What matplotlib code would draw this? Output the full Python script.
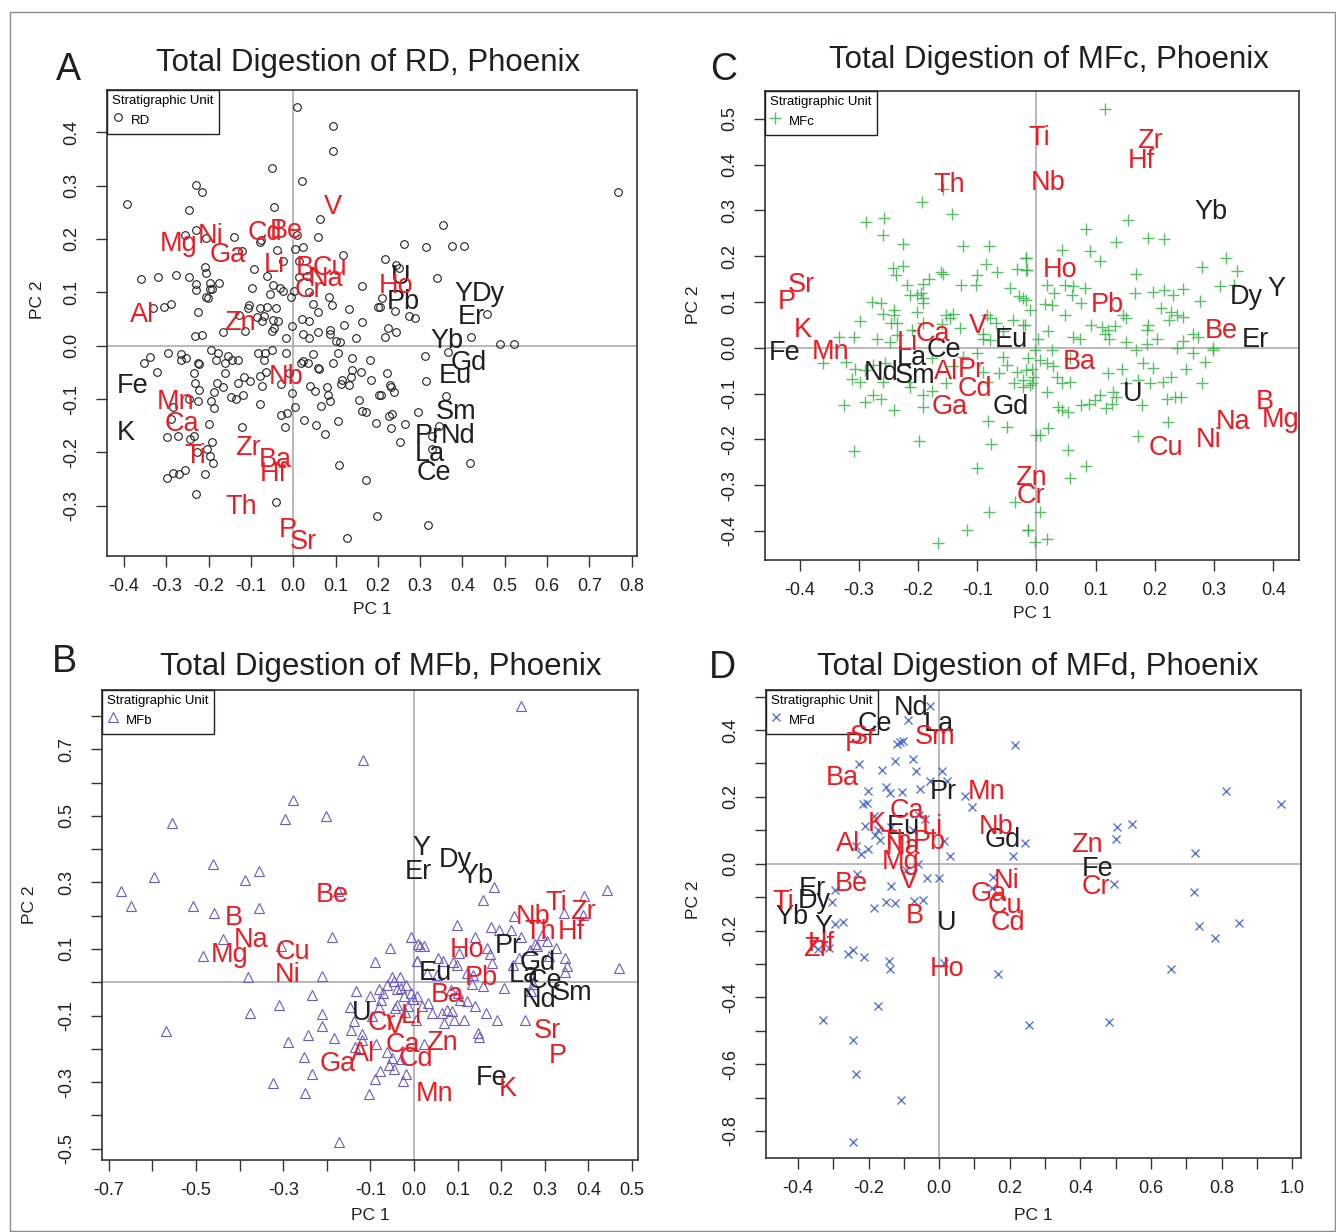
import matplotlib
matplotlib.use("Agg")
import matplotlib.pyplot as plt
import numpy as np

plt.rcParams['font.family'] = ['Liberation Sans', 'DejaVu Sans']
plt.rcParams['axes.unicode_minus'] = False

RED = '#ed1c24'
BLACK = '#231f20'

# ---------------- panel A : RD ----------------
rd_scores = [
    (0.008, 0.448), (0.095, 0.411), (0.095, 0.365), (-0.049, 0.333), (0.020, 0.309),
    (-0.229, 0.301), (-0.215, 0.287), (-0.392, 0.265), (-0.247, 0.255), (-0.045, 0.259),
    (0.063, 0.238), (-0.255, 0.207), (-0.229, 0.216), (-0.205, 0.202), (-0.139, 0.203),
    (-0.079, 0.195), (-0.075, 0.198), (0.008, 0.208), (0.058, 0.203), (-0.038, 0.180),
    (0.004, 0.181), (0.024, 0.184), (-0.122, 0.177), (0.118, 0.169), (-0.092, 0.143),
    (-0.025, 0.159), (0.014, 0.159), (-0.209, 0.148), (-0.205, 0.137), (-0.359, 0.124),
    (-0.319, 0.129), (-0.276, 0.132), (-0.247, 0.129), (-0.063, 0.130), (0.014, 0.129),
    (0.032, 0.130), (-0.229, 0.115), (-0.197, 0.118), (-0.175, 0.118), (-0.229, 0.104),
    (-0.197, 0.107), (-0.191, 0.106), (-0.047, 0.114), (-0.032, 0.109), (-0.025, 0.102),
    (-0.098, 0.109), (-0.055, 0.096), (0.002, 0.102), (-0.004, 0.092), (-0.206, 0.092),
    (-0.201, 0.089), (0.085, 0.092), (0.038, 0.100), (0.047, 0.078), (0.092, 0.076),
    (-0.331, 0.071), (-0.305, 0.072), (-0.288, 0.078), (-0.225, 0.064), (-0.104, 0.077),
    (-0.106, 0.071), (-0.079, 0.070), (-0.063, 0.072), (-0.041, 0.071), (0.058, 0.064),
    (0.132, 0.069), (0.163, 0.112), (0.201, 0.072), (-0.085, 0.053), (-0.069, 0.056),
    (-0.074, 0.046), (-0.128, 0.057), (-0.047, 0.048), (-0.035, 0.046), (0.020, 0.050),
    (0.038, 0.047), (0.087, 0.029), (0.121, 0.039), (0.162, 0.045), (-0.165, 0.026),
    (-0.113, 0.028), (-0.051, 0.028), (-0.045, 0.034), (-0.002, 0.036), (-0.231, 0.019),
    (-0.215, 0.020), (-0.016, 0.015), (0.024, 0.021), (0.038, 0.014), (0.059, 0.026),
    (0.087, 0.021), (0.148, 0.014), (0.100, 0.009), (0.110, 0.007),
    (0.768, 0.287), (0.355, 0.226), (0.262, 0.190), (0.313, 0.185), (0.375, 0.187),
    (0.403, 0.187), (0.217, 0.162), (0.243, 0.151), (0.250, 0.146), (0.341, 0.127),
    (0.211, 0.089), (0.205, 0.072), (0.240, 0.065), (0.274, 0.056), (0.288, 0.051),
    (0.457, 0.059), (0.225, 0.034), (0.244, 0.026), (0.218, 0.017), (0.420, 0.016),
    (-0.352, -0.033), (-0.339, -0.021), (-0.322, -0.049), (-0.296, -0.013), (-0.264, -0.016),
    (-0.265, -0.026), (-0.254, -0.024), (-0.225, -0.032), (-0.223, -0.035), (-0.234, -0.051),
    (-0.232, -0.069), (-0.223, -0.083), (-0.225, -0.104), (-0.246, -0.100), (-0.195, -0.008),
    (-0.177, -0.013), (-0.183, -0.027), (-0.155, -0.020), (-0.161, -0.033), (-0.144, -0.026),
    (-0.130, -0.026), (-0.161, -0.052), (-0.181, -0.069), (-0.187, -0.086), (-0.195, -0.103),
    (-0.186, -0.117), (-0.166, -0.078), (-0.148, -0.097), (-0.136, -0.100), (-0.118, -0.092),
    (-0.116, -0.058), (-0.101, -0.066), (-0.130, -0.069), (-0.084, -0.013), (-0.067, -0.013),
    (-0.069, -0.026), (-0.051, -0.009), (-0.065, -0.049), (-0.078, -0.057), (-0.073, -0.076),
    (-0.078, -0.109), (-0.028, -0.071), (-0.009, -0.052), (-0.002, -0.089), (0.004, -0.115),
    (-0.016, -0.013), (-0.029, -0.130), (-0.014, -0.127), (-0.020, -0.152), (0.025, -0.140),
    (0.055, -0.149), (0.076, -0.166), (0.107, -0.141), (0.108, -0.224), (0.173, -0.252),
    (0.197, -0.320), (0.128, -0.360), (-0.041, -0.292), (-0.120, -0.153), (-0.199, -0.147),
    (-0.230, -0.278), (-0.209, -0.240), (-0.189, -0.220), (-0.197, -0.207), (-0.203, -0.194),
    (-0.191, -0.181), (-0.234, -0.169), (-0.244, -0.175), (-0.273, -0.169), (-0.299, -0.172),
    (-0.289, -0.138), (-0.285, -0.115), (-0.298, -0.248), (-0.285, -0.238), (-0.270, -0.240),
    (-0.255, -0.232), (-0.227, -0.200), (0.018, -0.032), (0.024, -0.029), (0.039, -0.076),
    (0.051, -0.084), (0.047, -0.016), (0.035, -0.033), (0.059, -0.041), (0.061, -0.044),
    (0.065, -0.113), (0.083, -0.092), (0.087, -0.104), (0.081, -0.077), (0.095, -0.033),
    (0.116, -0.064), (0.132, -0.074), (0.139, -0.046), (0.137, -0.058), (0.155, -0.101),
    (0.161, -0.049), (0.163, -0.122), (0.171, -0.125), (0.183, -0.064), (0.195, -0.145),
    (0.182, -0.027), (0.203, -0.093), (0.114, -0.071), (0.139, -0.024), (0.105, -0.014),
    (0.311, -0.019), (0.313, -0.066), (0.366, -0.011), (0.362, -0.094), (0.294, -0.125),
    (0.345, -0.150), (0.329, -0.169), (0.329, -0.194), (0.418, -0.220), (0.252, -0.181),
    (0.264, -0.147), (0.230, -0.155), (0.234, -0.128), (0.226, -0.132), (0.238, -0.086),
    (0.229, -0.074), (0.232, -0.077), (0.221, -0.052), (0.207, -0.092), (0.489, 0.003),
    (0.522, 0.003), (0.318, -0.335),
]
rd_red = ['V', 'Be', 'Cd', 'Mg', 'Ni', 'Ga', 'Li', 'B', 'Cu', 'Na', 'Cr', 'Ho', 'Al', 'Zn',
          'Nb', 'Mn', 'Ca', 'Ti', 'Zr', 'Ba', 'Hf', 'Th', 'P', 'Sr']
rd_red_x = [0.095, -0.016, -0.067, -0.270, -0.195, -0.155, -0.045, 0.028, 0.087, 0.079, 0.038,
            0.243, -0.358, -0.126, -0.016, -0.277, -0.264, -0.232, -0.106, -0.043, -0.046,
            -0.122, -0.012, 0.025]
rd_red_y = [0.260, 0.214, 0.211, 0.190, 0.206, 0.169, 0.151, 0.146, 0.146, 0.125, 0.104,
            0.111, 0.058, 0.042, -0.058, -0.105, -0.147, -0.207, -0.192, -0.214, -0.240,
            -0.303, -0.345, -0.368]
rd_black = ['Fe', 'K', 'U', 'Pb', 'Y', 'Dy', 'Er', 'Yb', 'Gd', 'Eu', 'Sm', 'Pr', 'Nd', 'La', 'Ce']
rd_black_x = [-0.380, -0.396, 0.255, 0.260, 0.402, 0.461, 0.422, 0.363, 0.414, 0.384, 0.384,
              0.319, 0.390, 0.323, 0.333]
rd_black_y = [-0.076, -0.163, 0.129, 0.082, 0.096, 0.096, 0.053, 0.008, -0.033, -0.057, -0.124,
              -0.169, -0.170, -0.203, -0.239]

# ---------------- panel C : MFc ----------------
mfc_scores = [
    (-0.157, 0.346), (-0.194, 0.319), (-0.143, 0.291), (-0.288, 0.274), (-0.257, 0.284),
    (-0.259, 0.246), (-0.225, 0.226), (-0.124, 0.223), (-0.080, 0.221), (-0.242, 0.175),
    (-0.225, 0.178), (-0.238, 0.159), (-0.161, 0.166), (-0.157, 0.161), (-0.085, 0.182),
    (-0.067, 0.166), (-0.101, 0.159), (-0.033, 0.172), (-0.018, 0.195), (-0.017, 0.170),
    (-0.182, 0.151), (-0.191, 0.140), (-0.128, 0.138), (-0.102, 0.138), (-0.045, 0.131),
    (-0.219, 0.137), (-0.214, 0.116), (-0.202, 0.116), (-0.195, 0.119), (-0.192, 0.108),
    (-0.192, 0.097), (-0.202, 0.079), (-0.277, 0.100), (-0.263, 0.097), (-0.298, 0.058),
    (-0.241, 0.082), (-0.240, 0.071), (-0.260, 0.073), (-0.245, 0.053), (-0.236, 0.055),
    (-0.152, 0.071), (-0.141, 0.073), (-0.129, 0.044), (-0.084, 0.071), (-0.079, 0.064),
    (-0.069, 0.053), (-0.029, 0.113), (-0.017, 0.104), (-0.039, 0.060), (-0.022, 0.049),
    (-0.333, 0.024), (-0.309, 0.024), (-0.270, 0.018), (-0.248, 0.013), (-0.236, 0.028),
    (-0.210, 0.039), (-0.192, 0.055), (-0.159, 0.051), (-0.146, 0.064), (-0.090, 0.031),
    (-0.090, 0.020), (-0.079, 0.017), (-0.056, 0.036),
    (0.116, 0.521), (0.154, 0.279), (0.083, 0.259), (0.135, 0.231), (0.189, 0.240),
    (0.216, 0.237), (0.044, 0.213), (0.090, 0.212), (0.107, 0.190), (-0.017, 0.195),
    (-0.016, 0.170), (0.320, 0.195), (0.279, 0.177), (0.338, 0.168), (0.169, 0.162),
    (0.310, 0.135), (0.333, 0.138), (0.017, 0.137), (0.048, 0.138), (0.062, 0.135),
    (0.082, 0.130), (0.029, 0.119), (0.060, 0.116), (0.166, 0.119), (0.197, 0.122),
    (0.216, 0.126), (0.231, 0.116), (0.248, 0.128), (0.276, 0.102), (0.014, 0.095),
    (0.026, 0.093), (0.076, 0.097), (0.049, 0.071), (0.147, 0.071), (0.152, 0.064),
    (0.211, 0.086), (0.228, 0.079), (0.237, 0.071), (0.248, 0.068), (0.224, 0.060),
    (-0.022, 0.108), (-0.011, 0.082), (-0.020, 0.049), (0.020, 0.036), (0.003, 0.020),
    (0.062, 0.024), (0.073, 0.020), (0.093, 0.049), (0.110, 0.046), (0.121, 0.039),
    (0.116, 0.031), (0.133, 0.048), (0.123, 0.020), (0.152, 0.013), (0.189, 0.049),
    (0.186, 0.039), (0.203, 0.020), (0.186, 0.009), (0.248, 0.015), (0.265, 0.031),
    (0.273, 0.024), (0.299, -0.001),
    (-0.361, -0.034), (-0.321, -0.031), (-0.307, -0.047), (-0.312, -0.069), (-0.298, -0.074),
    (-0.290, -0.049), (-0.276, -0.038), (-0.256, -0.034), (-0.325, -0.125), (-0.290, -0.118),
    (-0.276, -0.103), (-0.263, -0.113), (-0.241, -0.136), (-0.215, -0.074), (-0.191, -0.103),
    (-0.191, -0.130), (-0.177, -0.094), (-0.152, -0.078), (-0.308, -0.225), (-0.198, -0.204),
    (-0.081, -0.159), (-0.050, -0.174), (-0.077, -0.211), (-0.101, -0.263), (-0.080, -0.358),
    (-0.118, -0.398), (-0.167, -0.427), (-0.036, -0.336), (-0.014, -0.398), (-0.003, -0.424),
    (-0.001, -0.191), (-0.101, -0.012), (-0.056, -0.020), (-0.050, -0.038), (-0.064, -0.055),
    (-0.090, -0.052), (-0.084, -0.074), (-0.033, -0.052), (-0.038, -0.076), (-0.022, -0.085),
    (-0.008, -0.078), (-0.008, -0.047), (-0.014, -0.023), (-0.003, -0.005), (-0.177, -0.023),
    (-0.124, -0.020), (-0.141, -0.041), (-0.214, -0.085), (-0.259, -0.074),
    (-0.022, -0.071), (-0.017, -0.049), (-0.006, -0.063), (0.006, -0.027), (0.026, -0.005),
    (0.028, -0.041), (0.034, -0.063), (0.044, -0.078), (0.057, -0.074), (0.017, -0.096),
    (0.037, -0.129), (0.044, -0.136), (0.054, -0.140), (0.006, -0.191), (0.020, -0.176),
    (0.054, -0.223), (0.057, -0.285), (0.083, -0.258), (0.006, -0.358), (-0.014, -0.398),
    (0.017, -0.418), (0.172, -0.193), (0.222, -0.162), (0.279, -0.076), (0.285, -0.031),
    (0.299, -0.005), (0.253, -0.047), (0.245, -0.107), (0.234, -0.107), (0.220, -0.111),
    (0.228, -0.063), (0.214, -0.074), (0.197, -0.045), (0.192, -0.078), (0.180, -0.034),
    (0.172, -0.071), (0.178, -0.125), (0.152, -0.078), (0.144, -0.047), (0.135, -0.107),
    (0.127, -0.122), (0.118, -0.132), (0.107, -0.103), (0.099, -0.114), (0.088, -0.122),
    (0.076, -0.125), (0.121, -0.056), (0.130, -0.096), (0.169, -0.005), (0.265, -0.012),
    (0.237, -0.001), (-0.011, -0.082), (0.057, -0.023), (0.017, -0.034),
]
mfc_red = ['Ti', 'Zr', 'Hf', 'Nb', 'Th', 'Ho', 'Pb', 'Be', 'Sr', 'P', 'K', 'Mn', 'Ca', 'Li', 'V',
           'Al', 'Pr', 'Cd', 'Ga', 'Ba', 'Zn', 'Cr', 'Cu', 'Ni', 'Na', 'B', 'Mg']
mfc_red_x = [0.005, 0.192, 0.178, 0.020, -0.147, 0.040, 0.119, 0.312, -0.397, -0.422, -0.395,
             -0.348, -0.174, -0.218, -0.099, -0.152, -0.110, -0.104, -0.146, 0.072, -0.010,
             -0.009, 0.219, 0.291, 0.332, 0.385, 0.413]
mfc_red_y = [0.457, 0.451, 0.408, 0.359, 0.355, 0.170, 0.093, 0.036, 0.137, 0.100, 0.039,
             -0.009, 0.031, 0.010, 0.048, -0.052, -0.049, -0.091, -0.130, -0.031, -0.284,
             -0.323, -0.218, -0.202, -0.162, -0.118, -0.157]
mfc_black = ['Yb', 'Y', 'Dy', 'Er', 'Eu', 'Fe', 'Ce', 'La', 'Nd', 'Sm', 'Gd', 'U']
mfc_black_x = [0.295, 0.406, 0.355, 0.370, -0.043, -0.425, -0.157, -0.211, -0.263, -0.205,
               -0.044, 0.162]
mfc_black_y = [0.297, 0.128, 0.111, 0.016, 0.017, -0.012, -0.004, -0.023, -0.055, -0.062,
               -0.129, -0.100]

# ---------------- panel B : MFb ----------------
mfb_scores = [
    (-0.118, 0.668), (-0.278, 0.548), (-0.296, 0.491), (-0.202, 0.498), (-0.554, 0.478),
    (-0.460, 0.355), (-0.596, 0.316), (-0.388, 0.308), (-0.355, 0.335), (-0.672, 0.273),
    (-0.648, 0.228), (-0.506, 0.230), (-0.459, 0.208), (-0.355, 0.223), (-0.174, 0.275),
    (-0.439, 0.130), (-0.485, 0.078), (-0.304, 0.108), (-0.187, 0.135), (-0.055, 0.103),
    (-0.089, 0.060), (-0.008, 0.135), (-0.380, 0.015), (-0.212, 0.018), (-0.051, 0.015),
    (-0.031, 0.015), (0.010, 0.115), (0.006, 0.065),
    (0.245, 0.831), (0.184, 0.286), (0.159, 0.246), (0.391, 0.260), (0.442, 0.276),
    (0.229, 0.200), (0.343, 0.208), (0.388, 0.203), (0.098, 0.173), (0.176, 0.166),
    (0.196, 0.156), (0.222, 0.156), (0.141, 0.135), (0.245, 0.135), (0.293, 0.143),
    (0.304, 0.123), (0.277, 0.115), (0.326, 0.103), (0.014, 0.108), (0.024, 0.108),
    (0.056, 0.073), (0.066, 0.063), (0.089, 0.060), (0.104, 0.088), (0.098, 0.053),
    (0.167, 0.103), (0.174, 0.086), (0.178, 0.058), (0.227, 0.053), (0.241, 0.073),
    (0.267, 0.096), (0.283, 0.108), (0.310, 0.078), (0.346, 0.073), (0.350, 0.048),
    (0.346, 0.030), (0.470, 0.043), (0.006, 0.063), (0.029, 0.028), (0.052, 0.023),
    (0.121, 0.028), (0.136, 0.023),
    (-0.569, -0.147), (-0.376, -0.092), (-0.309, -0.067), (-0.290, -0.180), (-0.253, -0.225),
    (-0.235, -0.275), (-0.324, -0.304), (-0.251, -0.332), (-0.242, -0.159), (-0.233, -0.037),
    (-0.211, -0.094), (-0.211, -0.130), (-0.184, -0.167), (-0.172, -0.479), (-0.133, -0.025),
    (-0.147, -0.074), (-0.145, -0.142), (-0.137, -0.117), (-0.119, -0.154), (-0.119, -0.172),
    (-0.135, -0.194), (-0.104, -0.337), (-0.090, -0.292), (-0.078, -0.267), (-0.057, -0.249),
    (-0.047, -0.262), (-0.026, -0.297), (-0.018, -0.277), (-0.088, -0.187), (-0.063, -0.210),
    (-0.051, -0.227), (-0.030, -0.230), (-0.096, -0.102), (-0.080, -0.075), (-0.075, -0.054),
    (-0.071, -0.032), (-0.100, -0.042), (-0.081, -0.020), (-0.063, -0.007), (-0.047, 0.003),
    (-0.040, -0.019), (-0.039, -0.067), (-0.043, -0.077), (-0.021, -0.090), (-0.023, -0.042),
    (-0.030, -0.017), (-0.018, -0.007), (-0.008, -0.032), (-0.002, -0.050), (-0.014, -0.072),
    (0.004, -0.112), (0.006, -0.042), (0.018, -0.072), (0.031, -0.062), (0.042, -0.092),
    (0.023, -0.187), (0.064, -0.092), (0.068, -0.122), (0.076, -0.082), (0.088, -0.087),
    (0.092, -0.112), (0.115, -0.112), (0.105, -0.052), (0.121, -0.057), (0.141, -0.072),
    (0.132, -0.004), (0.158, -0.012), (0.166, -0.092), (0.191, -0.114), (0.146, -0.152),
    (0.150, -0.164), (0.207, -0.017), (0.255, -0.112), (0.268, -0.027), (0.273, -0.004),
    (0.100, -0.032), (0.084, -0.022),
]
mfb_red = ['Be', 'B', 'Na', 'Mg', 'Cu', 'Ni', 'Nb', 'Ti', 'Zr', 'Th', 'Hf', 'Ho', 'Pb', 'Ba',
           'Cr', 'V', 'Li', 'Ca', 'Zn', 'Al', 'Cd', 'Ga', 'Mn', 'Sr', 'P', 'K']
mfb_red_x = [-0.188, -0.414, -0.374, -0.424, -0.277, -0.290, 0.274, 0.327, 0.388, 0.289, 0.362,
             0.121, 0.154, 0.076, -0.073, -0.043, -0.006, -0.026, 0.064, -0.116, 0.004,
             -0.174, 0.046, 0.307, 0.330, 0.214]
mfb_red_y = [0.262, 0.193, 0.128, 0.083, 0.090, 0.023, 0.196, 0.238, 0.211, 0.151, 0.151,
             0.098, 0.013, -0.037, -0.122, -0.132, -0.102, -0.190, -0.182, -0.215, -0.230,
             -0.245, -0.337, -0.147, -0.222, -0.322]
mfb_black = ['Y', 'Er', 'Dy', 'Yb', 'Pr', 'Gd', 'La', 'Ce', 'Sm', 'Nd', 'Eu', 'U', 'Fe']
mfb_black_x = [0.016, 0.011, 0.094, 0.144, 0.216, 0.284, 0.252, 0.301, 0.363, 0.287, 0.050,
               -0.120, 0.179]
mfb_black_y = [0.403, 0.330, 0.368, 0.318, 0.108, 0.058, 0.023, 0.003, -0.032, -0.052, 0.028,
               -0.092, -0.287]

# ---------------- panel D : MFd ----------------
mfd_scores = [
    (-0.271, 0.454), (-0.027, 0.471), (-0.089, 0.429), (-0.119, 0.357), (-0.111, 0.363),
    (-0.103, 0.368), (0.216, 0.355), (-0.228, 0.298), (-0.163, 0.281), (-0.125, 0.308),
    (-0.075, 0.313), (-0.065, 0.277), (0.009, 0.279), (0.021, 0.249), (-0.027, 0.247),
    (-0.202, 0.218), (-0.152, 0.229), (-0.139, 0.211), (-0.106, 0.216), (-0.055, 0.223),
    (0.074, 0.203), (0.093, 0.169), (-0.216, 0.179), (-0.204, 0.182), (-0.185, 0.143),
    (-0.211, 0.114), (-0.173, 0.101), (-0.183, 0.085), (-0.168, 0.071), (-0.137, 0.111),
    (-0.057, 0.145), (-0.039, 0.134), (-0.074, 0.101), (0.015, 0.069), (0.031, 0.024),
    (0.244, 0.061), (0.208, 0.024), (-0.237, 0.053), (-0.201, 0.045), (-0.221, 0.030),
    (-0.232, -0.032), (-0.137, -0.067), (-0.093, -0.018), (-0.060, -0.001), (-0.034, -0.044),
    (0.000, -0.043), (-0.072, -0.112), (-0.047, -0.109), (-0.152, -0.114), (-0.124, -0.119),
    (-0.185, -0.132), (-0.295, -0.078), (-0.305, -0.114), (-0.295, -0.180), (-0.273, -0.175),
    (-0.312, -0.253), (-0.258, -0.271), (-0.243, -0.259), (-0.212, -0.279), (-0.142, -0.292),
    (-0.139, -0.315), (0.014, -0.296), (0.167, -0.329), (-0.173, -0.427), (-0.330, -0.467),
    (-0.243, -0.528), (-0.237, -0.630), (-0.108, -0.706), (-0.243, -0.832), (0.254, -0.483),
    (0.481, -0.474), (0.656, -0.315), (0.504, 0.111), (0.545, 0.119), (0.500, 0.074),
    (0.494, -0.060), (0.726, 0.032), (0.721, -0.086), (0.737, -0.185), (0.782, -0.221),
    (0.849, -0.179), (0.813, 0.219), (0.968, 0.179), (0.149, -0.072), (0.152, -0.041),
    (-0.358, -0.243), (-0.343, -0.256),
]
mfd_red = ['Sr', 'P', 'Sm', 'Ba', 'Mn', 'Ca', 'K', 'Li', 'Nb', 'Al', 'Th', 'Na', 'Pb', 'Mg',
           'V', 'Be', 'Ti', 'B', 'Hf', 'Zr', 'Ho', 'Ni', 'Ga', 'Cu', 'Cd', 'Zn', 'Cr']
mfd_red_x = [-0.214, -0.243, -0.011, -0.274, 0.133, -0.091, -0.178, -0.019, 0.160, -0.258,
             -0.122, -0.101, -0.029, -0.108, -0.086, -0.248, -0.441, -0.070, -0.333, -0.348,
             0.023, 0.190, 0.141, 0.185, 0.196, 0.419, 0.445]
mfd_red_y = [0.378, 0.357, 0.378, 0.256, 0.216, 0.158, 0.119, 0.111, 0.109, 0.059, 0.064,
             0.050, 0.064, 0.006, -0.051, -0.062, -0.116, -0.158, -0.240, -0.256, -0.316,
             -0.051, -0.090, -0.128, -0.177, 0.057, -0.069]
mfd_black = ['Nd', 'Ce', 'La', 'Pr', 'Eu', 'Gd', 'Fe', 'Er', 'Dy', 'Yb', 'Y', 'U']
mfd_black_x = [-0.080, -0.181, 0.000, 0.012, -0.101, 0.179, 0.450, -0.358, -0.353, -0.417,
               -0.328, 0.021]
mfd_black_y = [0.467, 0.417, 0.417, 0.214, 0.111, 0.072, -0.015, -0.075, -0.111, -0.159,
               -0.188, -0.177]


W, H = 1336, 1232
fig = plt.figure(figsize=(W / 100, H / 100), dpi=100)


def fx(px):
    return px / W


def fy(py):
    return 1 - py / H


def tick_labels(ticks, shown):
    out = []
    for t in ticks:
        if any(abs(t - s) < 1e-9 for s in shown):
            out.append('%.1f' % (0.0 if abs(t) < 1e-9 else t))
        else:
            out.append('')
    return out


def panel(box, xlim, ylim, xt, xshow, yt, yshow, scores, marker, mcolor, msize, unit,
          red, red_x, red_y, black, black_x, black_y):
    left, top, right, bottom = box
    ax = fig.add_axes([fx(left), fy(bottom), fx(right) - fx(left), fy(top) - fy(bottom)])
    ax.set_xlim(*xlim)
    ax.set_ylim(*ylim)
    ax.axhline(0, color='#a6a6a6', lw=1.1, zorder=1)
    ax.axvline(0, color='#a6a6a6', lw=1.1, zorder=1)
    pts = np.array(scores)
    if marker in ('o', '^'):
        h, = ax.plot(pts[:, 0], pts[:, 1], ls='none', marker=marker, mfc='none', mec=mcolor,
                     ms=msize, mew=0.8, zorder=2)
    else:
        h, = ax.plot(pts[:, 0], pts[:, 1], ls='none', marker=marker, color=mcolor,
                     ms=msize, mew=1.0, alpha=0.85, zorder=2)
    # legend sits under the element labels, as in the original R figure
    leg = ax.legend([h], [unit], title='Stratigraphic Unit', loc='upper left',
                    borderaxespad=0, fancybox=False, edgecolor='#231f20', framealpha=1,
                    fontsize=9.5, title_fontsize=9.5, alignment='left', handlelength=0.8,
                    handleheight=1.8, handletextpad=0.6, borderpad=0.4, labelspacing=0.2)
    leg.get_frame().set_linewidth(1.0)
    leg.set_zorder(2.5)
    for lab, x, y in zip(black, black_x, black_y):
        ax.text(x, y, lab, color=BLACK, fontsize=19.5, ha='center', va='center', zorder=3)
    for lab, x, y in zip(red, red_x, red_y):
        ax.text(x, y, lab, color=RED, fontsize=19.5, ha='center', va='center', zorder=3)
    ax.set_xticks(xt)
    ax.set_xticklabels(tick_labels(xt, xshow))
    ax.set_yticks(yt)
    ax.set_yticklabels(tick_labels(yt, yshow), rotation=90, va='center')
    ax.tick_params(direction='out', length=8, width=1, colors='#333333', labelsize=13,
                   labelcolor='#231f20')
    ax.tick_params(axis='x', pad=8)
    ax.tick_params(axis='y', pad=11)
    for s in ax.spines.values():
        s.set_color('#333333')
        s.set_linewidth(1.2)
    return ax


panel((107, 90, 637, 556), (-0.44, 0.8125), (-0.394, 0.479),
      np.round(np.arange(-0.4, 0.81, 0.1), 1), np.round(np.arange(-0.4, 0.81, 0.1), 1),
      np.round(np.arange(-0.3, 0.41, 0.1), 1), np.round(np.arange(-0.3, 0.41, 0.1), 1),
      rd_scores, 'o', '#231f20', 5.5, 'RD',
      rd_red, rd_red_x, rd_red_y, rd_black, rd_black_x, rd_black_y)

panel((764.7, 91, 1299.3, 560), (-0.459, 0.444), (-0.4635, 0.5605),
      np.round(np.arange(-0.4, 0.41, 0.1), 1), np.round(np.arange(-0.4, 0.41, 0.1), 1),
      np.round(np.arange(-0.4, 0.51, 0.1), 1), np.round(np.arange(-0.4, 0.51, 0.1), 1),
      mfc_scores, '+', '#3cb44b', 8, 'MFc',
      mfc_red, mfc_red_x, mfc_red_y, mfc_black, mfc_black_x, mfc_black_y)

panel((102, 690, 638.3, 1160), (-0.7156, 0.5144), (-0.534, 0.878),
      np.round(np.arange(-0.7, 0.51, 0.1), 1),
      [-0.7, -0.5, -0.3, -0.1, 0.0, 0.1, 0.2, 0.3, 0.4, 0.5],
      np.round(np.arange(-0.5, 0.81, 0.1), 1),
      [-0.5, -0.3, -0.1, 0.1, 0.3, 0.5, 0.7],
      mfb_scores, '^', '#6a5acd', 7, 'MFb',
      mfb_red, mfb_red_x, mfb_red_y, mfb_black, mfb_black_x, mfb_black_y)

panel((765.5, 690, 1301, 1158), (-0.492, 1.025), (-0.881, 0.52),
      np.round(np.arange(-0.4, 1.01, 0.1), 1),
      [-0.4, -0.2, 0.0, 0.2, 0.4, 0.6, 0.8, 1.0],
      np.round(np.arange(-0.8, 0.51, 0.1), 1),
      [-0.8, -0.6, -0.4, -0.2, 0.0, 0.2, 0.4],
      mfd_scores, 'x', '#3a5fcd', 6, 'MFd',
      mfd_red, mfd_red_x, mfd_red_y, mfd_black, mfd_black_x, mfd_black_y)

# titles, panel letters, axis labels
titles = [('Total Digestion of RD, Phoenix', 368, 63), ('Total Digestion of MFc, Phoenix', 1049, 60),
          ('Total Digestion of MFb, Phoenix', 381, 667), ('Total Digestion of MFd, Phoenix', 1038, 667)]
for t, x, y in titles:
    fig.text(fx(x), fy(y), t, fontsize=22.5, ha='center', va='center', color=BLACK)
for t, x, y in [('A', 68, 70), ('C', 724, 70), ('B', 64, 662), ('D', 722, 668)]:
    fig.text(fx(x), fy(y), t, fontsize=27, ha='center', va='center', color=BLACK)
for x, y in [(372, 609), (1032, 614), (370, 1215), (1033, 1215)]:
    fig.text(fx(x), fy(y), 'PC 1', fontsize=12.5, ha='center', va='center', color=BLACK)
for x, y in [(37, 300), (693, 305), (30, 905), (693, 900)]:
    fig.text(fx(x), fy(y), 'PC 2', fontsize=12.5, ha='center', va='center', rotation=90,
             color=BLACK)

# thin outer frame
fig.add_artist(plt.Rectangle((fx(10), fy(1231)), fx(1335) - fx(10), fy(12) - fy(1231),
                             transform=fig.transFigure, fill=False, ec='#8c8c8c', lw=1.0))

fig.savefig('out.png', dpi=100)
